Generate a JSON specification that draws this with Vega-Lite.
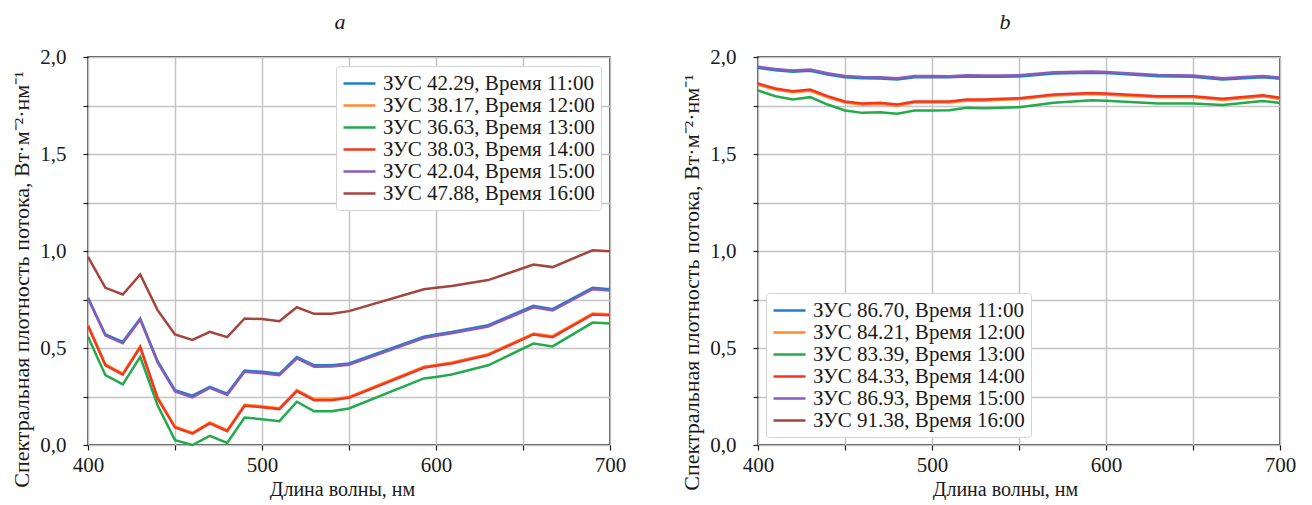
{
  "$schema": "https://vega.github.io/schema/vega-lite/v6.json",
  "padding": {"left": 10, "top": 10, "right": 0, "bottom": 0},
  "background": "white",
  "spacing": 53,
  "config": {
    "font": "Liberation Serif",
    "view": {"stroke": "#1a1a1a", "strokeWidth": 1.5},
    "axis": {
      "domain": false,
      "grid": true,
      "gridColor": "#c4c4c4",
      "gridWidth": 1.5,
      "tickColor": "#1a1a1a",
      "tickSize": 5,
      "tickWidth": 1.2,
      "labelFont": "Liberation Serif",
      "labelFontSize": 21,
      "labelColor": "#1a1a1a",
      "titleFont": "Liberation Serif",
      "titleFontSize": 21,
      "titleFontWeight": "normal",
      "titleColor": "#1a1a1a"
    },
    "axisX": {"labelPadding": 4, "titlePadding": 4, "labelFlush": false, "titleFontSize": 20},
    "axisY": {"labelPadding": 17, "titlePadding": 6, "titleFontSize": 22},
    "legend": {
      "labelFont": "Liberation Serif",
      "labelFontSize": 21,
      "labelColor": "#1a1a1a",
      "labelLimit": 400,
      "labelOffset": 18,
      "symbolType": "M-1,0L2.2,0",
      "symbolSize": 400,
      "symbolStrokeWidth": 2.5,
      "rowPadding": 0,
      "padding": 6,
      "fillColor": "white",
      "strokeColor": "#d4d4d4",
      "cornerRadius": 3
    },
    "title": {"font": "Liberation Serif", "fontSize": 22, "fontStyle": "italic", "fontWeight": "normal", "color": "#1a1a1a", "frame": "group", "offset": 12}
  },
  "datasets": {
    "a": [
      {"s": "ЗУС 42.29, Время 11:00", "x": 400, "y": 0.759}, {"s": "ЗУС 42.29, Время 11:00", "x": 410, "y": 0.570}, {"s": "ЗУС 42.29, Время 11:00", "x": 420, "y": 0.532}, {"s": "ЗУС 42.29, Время 11:00", "x": 430, "y": 0.652}, {"s": "ЗУС 42.29, Время 11:00", "x": 440, "y": 0.432}, {"s": "ЗУС 42.29, Время 11:00", "x": 450, "y": 0.283}, {"s": "ЗУС 42.29, Время 11:00", "x": 460, "y": 0.254}, {"s": "ЗУС 42.29, Время 11:00", "x": 470, "y": 0.300}, {"s": "ЗУС 42.29, Время 11:00", "x": 480, "y": 0.265}, {"s": "ЗУС 42.29, Время 11:00", "x": 490, "y": 0.384}, {"s": "ЗУС 42.29, Время 11:00", "x": 500, "y": 0.377}, {"s": "ЗУС 42.29, Время 11:00", "x": 510, "y": 0.367}, {"s": "ЗУС 42.29, Время 11:00", "x": 520, "y": 0.453}, {"s": "ЗУС 42.29, Время 11:00", "x": 530, "y": 0.411}, {"s": "ЗУС 42.29, Время 11:00", "x": 540, "y": 0.411}, {"s": "ЗУС 42.29, Время 11:00", "x": 550, "y": 0.420}, {"s": "ЗУС 42.29, Время 11:00", "x": 593, "y": 0.558}, {"s": "ЗУС 42.29, Время 11:00", "x": 600, "y": 0.570}, {"s": "ЗУС 42.29, Время 11:00", "x": 609, "y": 0.583}, {"s": "ЗУС 42.29, Время 11:00", "x": 630, "y": 0.618}, {"s": "ЗУС 42.29, Время 11:00", "x": 656, "y": 0.717}, {"s": "ЗУС 42.29, Время 11:00", "x": 667, "y": 0.700}, {"s": "ЗУС 42.29, Время 11:00", "x": 690, "y": 0.810}, {"s": "ЗУС 42.29, Время 11:00", "x": 700, "y": 0.803},
      {"s": "ЗУС 38.17, Время 12:00", "x": 400, "y": 0.620}, {"s": "ЗУС 38.17, Время 12:00", "x": 410, "y": 0.416}, {"s": "ЗУС 38.17, Время 12:00", "x": 420, "y": 0.368}, {"s": "ЗУС 38.17, Время 12:00", "x": 430, "y": 0.509}, {"s": "ЗУС 38.17, Время 12:00", "x": 440, "y": 0.245}, {"s": "ЗУС 38.17, Время 12:00", "x": 450, "y": 0.095}, {"s": "ЗУС 38.17, Время 12:00", "x": 460, "y": 0.063}, {"s": "ЗУС 38.17, Время 12:00", "x": 470, "y": 0.116}, {"s": "ЗУС 38.17, Время 12:00", "x": 480, "y": 0.076}, {"s": "ЗУС 38.17, Время 12:00", "x": 490, "y": 0.207}, {"s": "ЗУС 38.17, Время 12:00", "x": 500, "y": 0.200}, {"s": "ЗУС 38.17, Время 12:00", "x": 510, "y": 0.190}, {"s": "ЗУС 38.17, Время 12:00", "x": 520, "y": 0.283}, {"s": "ЗУС 38.17, Время 12:00", "x": 530, "y": 0.236}, {"s": "ЗУС 38.17, Время 12:00", "x": 540, "y": 0.236}, {"s": "ЗУС 38.17, Время 12:00", "x": 550, "y": 0.248}, {"s": "ЗУС 38.17, Время 12:00", "x": 593, "y": 0.403}, {"s": "ЗУС 38.17, Время 12:00", "x": 600, "y": 0.413}, {"s": "ЗУС 38.17, Время 12:00", "x": 609, "y": 0.425}, {"s": "ЗУС 38.17, Время 12:00", "x": 630, "y": 0.468}, {"s": "ЗУС 38.17, Время 12:00", "x": 656, "y": 0.575}, {"s": "ЗУС 38.17, Время 12:00", "x": 667, "y": 0.561}, {"s": "ЗУС 38.17, Время 12:00", "x": 690, "y": 0.678}, {"s": "ЗУС 38.17, Время 12:00", "x": 700, "y": 0.674},
      {"s": "ЗУС 36.63, Время 13:00", "x": 400, "y": 0.558}, {"s": "ЗУС 36.63, Время 13:00", "x": 410, "y": 0.360}, {"s": "ЗУС 36.63, Время 13:00", "x": 420, "y": 0.312}, {"s": "ЗУС 36.63, Время 13:00", "x": 430, "y": 0.455}, {"s": "ЗУС 36.63, Время 13:00", "x": 440, "y": 0.205}, {"s": "ЗУС 36.63, Время 13:00", "x": 450, "y": 0.025}, {"s": "ЗУС 36.63, Время 13:00", "x": 460, "y": 0.000}, {"s": "ЗУС 36.63, Время 13:00", "x": 470, "y": 0.047}, {"s": "ЗУС 36.63, Время 13:00", "x": 480, "y": 0.011}, {"s": "ЗУС 36.63, Время 13:00", "x": 490, "y": 0.142}, {"s": "ЗУС 36.63, Время 13:00", "x": 500, "y": 0.133}, {"s": "ЗУС 36.63, Время 13:00", "x": 510, "y": 0.123}, {"s": "ЗУС 36.63, Время 13:00", "x": 520, "y": 0.223}, {"s": "ЗУС 36.63, Время 13:00", "x": 530, "y": 0.174}, {"s": "ЗУС 36.63, Время 13:00", "x": 540, "y": 0.174}, {"s": "ЗУС 36.63, Время 13:00", "x": 550, "y": 0.188}, {"s": "ЗУС 36.63, Время 13:00", "x": 593, "y": 0.343}, {"s": "ЗУС 36.63, Время 13:00", "x": 600, "y": 0.351}, {"s": "ЗУС 36.63, Время 13:00", "x": 609, "y": 0.363}, {"s": "ЗУС 36.63, Время 13:00", "x": 630, "y": 0.411}, {"s": "ЗУС 36.63, Время 13:00", "x": 656, "y": 0.523}, {"s": "ЗУС 36.63, Время 13:00", "x": 667, "y": 0.508}, {"s": "ЗУС 36.63, Время 13:00", "x": 690, "y": 0.631}, {"s": "ЗУС 36.63, Время 13:00", "x": 700, "y": 0.626},
      {"s": "ЗУС 38.03, Время 14:00", "x": 400, "y": 0.614}, {"s": "ЗУС 38.03, Время 14:00", "x": 410, "y": 0.411}, {"s": "ЗУС 38.03, Время 14:00", "x": 420, "y": 0.363}, {"s": "ЗУС 38.03, Время 14:00", "x": 430, "y": 0.504}, {"s": "ЗУС 38.03, Время 14:00", "x": 440, "y": 0.240}, {"s": "ЗУС 38.03, Время 14:00", "x": 450, "y": 0.090}, {"s": "ЗУС 38.03, Время 14:00", "x": 460, "y": 0.058}, {"s": "ЗУС 38.03, Время 14:00", "x": 470, "y": 0.111}, {"s": "ЗУС 38.03, Время 14:00", "x": 480, "y": 0.071}, {"s": "ЗУС 38.03, Время 14:00", "x": 490, "y": 0.202}, {"s": "ЗУС 38.03, Время 14:00", "x": 500, "y": 0.195}, {"s": "ЗУС 38.03, Время 14:00", "x": 510, "y": 0.185}, {"s": "ЗУС 38.03, Время 14:00", "x": 520, "y": 0.278}, {"s": "ЗУС 38.03, Время 14:00", "x": 530, "y": 0.231}, {"s": "ЗУС 38.03, Время 14:00", "x": 540, "y": 0.231}, {"s": "ЗУС 38.03, Время 14:00", "x": 550, "y": 0.243}, {"s": "ЗУС 38.03, Время 14:00", "x": 593, "y": 0.398}, {"s": "ЗУС 38.03, Время 14:00", "x": 600, "y": 0.408}, {"s": "ЗУС 38.03, Время 14:00", "x": 609, "y": 0.420}, {"s": "ЗУС 38.03, Время 14:00", "x": 630, "y": 0.463}, {"s": "ЗУС 38.03, Время 14:00", "x": 656, "y": 0.570}, {"s": "ЗУС 38.03, Время 14:00", "x": 667, "y": 0.556}, {"s": "ЗУС 38.03, Время 14:00", "x": 690, "y": 0.673}, {"s": "ЗУС 38.03, Время 14:00", "x": 700, "y": 0.669},
      {"s": "ЗУС 42.04, Время 15:00", "x": 400, "y": 0.755}, {"s": "ЗУС 42.04, Время 15:00", "x": 410, "y": 0.564}, {"s": "ЗУС 42.04, Время 15:00", "x": 420, "y": 0.525}, {"s": "ЗУС 42.04, Время 15:00", "x": 430, "y": 0.647}, {"s": "ЗУС 42.04, Время 15:00", "x": 440, "y": 0.425}, {"s": "ЗУС 42.04, Время 15:00", "x": 450, "y": 0.276}, {"s": "ЗУС 42.04, Время 15:00", "x": 460, "y": 0.246}, {"s": "ЗУС 42.04, Время 15:00", "x": 470, "y": 0.294}, {"s": "ЗУС 42.04, Время 15:00", "x": 480, "y": 0.258}, {"s": "ЗУС 42.04, Время 15:00", "x": 490, "y": 0.377}, {"s": "ЗУС 42.04, Время 15:00", "x": 500, "y": 0.370}, {"s": "ЗУС 42.04, Время 15:00", "x": 510, "y": 0.360}, {"s": "ЗУС 42.04, Время 15:00", "x": 520, "y": 0.446}, {"s": "ЗУС 42.04, Время 15:00", "x": 530, "y": 0.404}, {"s": "ЗУС 42.04, Время 15:00", "x": 540, "y": 0.405}, {"s": "ЗУС 42.04, Время 15:00", "x": 550, "y": 0.413}, {"s": "ЗУС 42.04, Время 15:00", "x": 593, "y": 0.551}, {"s": "ЗУС 42.04, Время 15:00", "x": 600, "y": 0.563}, {"s": "ЗУС 42.04, Время 15:00", "x": 609, "y": 0.576}, {"s": "ЗУС 42.04, Время 15:00", "x": 630, "y": 0.611}, {"s": "ЗУС 42.04, Время 15:00", "x": 656, "y": 0.710}, {"s": "ЗУС 42.04, Время 15:00", "x": 667, "y": 0.693}, {"s": "ЗУС 42.04, Время 15:00", "x": 690, "y": 0.803}, {"s": "ЗУС 42.04, Время 15:00", "x": 700, "y": 0.796},
      {"s": "ЗУС 47.88, Время 16:00", "x": 400, "y": 0.970}, {"s": "ЗУС 47.88, Время 16:00", "x": 410, "y": 0.810}, {"s": "ЗУС 47.88, Время 16:00", "x": 420, "y": 0.776}, {"s": "ЗУС 47.88, Время 16:00", "x": 430, "y": 0.879}, {"s": "ЗУС 47.88, Время 16:00", "x": 440, "y": 0.695}, {"s": "ЗУС 47.88, Время 16:00", "x": 450, "y": 0.570}, {"s": "ЗУС 47.88, Время 16:00", "x": 460, "y": 0.542}, {"s": "ЗУС 47.88, Время 16:00", "x": 470, "y": 0.583}, {"s": "ЗУС 47.88, Время 16:00", "x": 480, "y": 0.556}, {"s": "ЗУС 47.88, Время 16:00", "x": 490, "y": 0.652}, {"s": "ЗУС 47.88, Время 16:00", "x": 500, "y": 0.649}, {"s": "ЗУС 47.88, Время 16:00", "x": 510, "y": 0.638}, {"s": "ЗУС 47.88, Время 16:00", "x": 520, "y": 0.710}, {"s": "ЗУС 47.88, Время 16:00", "x": 530, "y": 0.676}, {"s": "ЗУС 47.88, Время 16:00", "x": 540, "y": 0.676}, {"s": "ЗУС 47.88, Время 16:00", "x": 550, "y": 0.690}, {"s": "ЗУС 47.88, Время 16:00", "x": 593, "y": 0.803}, {"s": "ЗУС 47.88, Время 16:00", "x": 600, "y": 0.810}, {"s": "ЗУС 47.88, Время 16:00", "x": 609, "y": 0.820}, {"s": "ЗУС 47.88, Время 16:00", "x": 630, "y": 0.850}, {"s": "ЗУС 47.88, Время 16:00", "x": 656, "y": 0.930}, {"s": "ЗУС 47.88, Время 16:00", "x": 667, "y": 0.917}, {"s": "ЗУС 47.88, Время 16:00", "x": 690, "y": 1.004}, {"s": "ЗУС 47.88, Время 16:00", "x": 700, "y": 0.999}
    ],
    "b": [
      {"s": "ЗУС 86.70, Время 11:00", "x": 400, "y": 1.944}, {"s": "ЗУС 86.70, Время 11:00", "x": 410, "y": 1.932}, {"s": "ЗУС 86.70, Время 11:00", "x": 420, "y": 1.924}, {"s": "ЗУС 86.70, Время 11:00", "x": 430, "y": 1.929}, {"s": "ЗУС 86.70, Время 11:00", "x": 440, "y": 1.910}, {"s": "ЗУС 86.70, Время 11:00", "x": 450, "y": 1.896}, {"s": "ЗУС 86.70, Время 11:00", "x": 460, "y": 1.891}, {"s": "ЗУС 86.70, Время 11:00", "x": 470, "y": 1.889}, {"s": "ЗУС 86.70, Время 11:00", "x": 480, "y": 1.884}, {"s": "ЗУС 86.70, Время 11:00", "x": 490, "y": 1.896}, {"s": "ЗУС 86.70, Время 11:00", "x": 500, "y": 1.896}, {"s": "ЗУС 86.70, Время 11:00", "x": 510, "y": 1.895}, {"s": "ЗУС 86.70, Время 11:00", "x": 520, "y": 1.900}, {"s": "ЗУС 86.70, Время 11:00", "x": 530, "y": 1.898}, {"s": "ЗУС 86.70, Время 11:00", "x": 540, "y": 1.898}, {"s": "ЗУС 86.70, Время 11:00", "x": 550, "y": 1.900}, {"s": "ЗУС 86.70, Время 11:00", "x": 570, "y": 1.915}, {"s": "ЗУС 86.70, Время 11:00", "x": 592, "y": 1.919}, {"s": "ЗУС 86.70, Время 11:00", "x": 600, "y": 1.917}, {"s": "ЗУС 86.70, Время 11:00", "x": 630, "y": 1.901}, {"s": "ЗУС 86.70, Время 11:00", "x": 650, "y": 1.898}, {"s": "ЗУС 86.70, Время 11:00", "x": 667, "y": 1.884}, {"s": "ЗУС 86.70, Время 11:00", "x": 690, "y": 1.896}, {"s": "ЗУС 86.70, Время 11:00", "x": 700, "y": 1.888},
      {"s": "ЗУС 84.21, Время 12:00", "x": 400, "y": 1.857}, {"s": "ЗУС 84.21, Время 12:00", "x": 410, "y": 1.832}, {"s": "ЗУС 84.21, Время 12:00", "x": 420, "y": 1.818}, {"s": "ЗУС 84.21, Время 12:00", "x": 430, "y": 1.826}, {"s": "ЗУС 84.21, Время 12:00", "x": 440, "y": 1.792}, {"s": "ЗУС 84.21, Время 12:00", "x": 450, "y": 1.765}, {"s": "ЗУС 84.21, Время 12:00", "x": 460, "y": 1.754}, {"s": "ЗУС 84.21, Время 12:00", "x": 470, "y": 1.758}, {"s": "ЗУС 84.21, Время 12:00", "x": 480, "y": 1.749}, {"s": "ЗУС 84.21, Время 12:00", "x": 490, "y": 1.765}, {"s": "ЗУС 84.21, Время 12:00", "x": 500, "y": 1.765}, {"s": "ЗУС 84.21, Время 12:00", "x": 510, "y": 1.765}, {"s": "ЗУС 84.21, Время 12:00", "x": 520, "y": 1.775}, {"s": "ЗУС 84.21, Время 12:00", "x": 530, "y": 1.775}, {"s": "ЗУС 84.21, Время 12:00", "x": 540, "y": 1.779}, {"s": "ЗУС 84.21, Время 12:00", "x": 550, "y": 1.782}, {"s": "ЗУС 84.21, Время 12:00", "x": 570, "y": 1.801}, {"s": "ЗУС 84.21, Время 12:00", "x": 592, "y": 1.809}, {"s": "ЗУС 84.21, Время 12:00", "x": 600, "y": 1.806}, {"s": "ЗУС 84.21, Время 12:00", "x": 630, "y": 1.792}, {"s": "ЗУС 84.21, Время 12:00", "x": 650, "y": 1.792}, {"s": "ЗУС 84.21, Время 12:00", "x": 667, "y": 1.779}, {"s": "ЗУС 84.21, Время 12:00", "x": 690, "y": 1.797}, {"s": "ЗУС 84.21, Время 12:00", "x": 700, "y": 1.784},
      {"s": "ЗУС 83.39, Время 13:00", "x": 400, "y": 1.827}, {"s": "ЗУС 83.39, Время 13:00", "x": 410, "y": 1.798}, {"s": "ЗУС 83.39, Время 13:00", "x": 420, "y": 1.781}, {"s": "ЗУС 83.39, Время 13:00", "x": 430, "y": 1.793}, {"s": "ЗУС 83.39, Время 13:00", "x": 440, "y": 1.755}, {"s": "ЗУС 83.39, Время 13:00", "x": 450, "y": 1.724}, {"s": "ЗУС 83.39, Время 13:00", "x": 460, "y": 1.712}, {"s": "ЗУС 83.39, Время 13:00", "x": 470, "y": 1.715}, {"s": "ЗУС 83.39, Время 13:00", "x": 480, "y": 1.707}, {"s": "ЗУС 83.39, Время 13:00", "x": 490, "y": 1.724}, {"s": "ЗУС 83.39, Время 13:00", "x": 500, "y": 1.724}, {"s": "ЗУС 83.39, Время 13:00", "x": 510, "y": 1.726}, {"s": "ЗУС 83.39, Время 13:00", "x": 520, "y": 1.738}, {"s": "ЗУС 83.39, Время 13:00", "x": 530, "y": 1.736}, {"s": "ЗУС 83.39, Время 13:00", "x": 540, "y": 1.738}, {"s": "ЗУС 83.39, Время 13:00", "x": 550, "y": 1.741}, {"s": "ЗУС 83.39, Время 13:00", "x": 570, "y": 1.764}, {"s": "ЗУС 83.39, Время 13:00", "x": 592, "y": 1.777}, {"s": "ЗУС 83.39, Время 13:00", "x": 600, "y": 1.774}, {"s": "ЗУС 83.39, Время 13:00", "x": 630, "y": 1.760}, {"s": "ЗУС 83.39, Время 13:00", "x": 650, "y": 1.760}, {"s": "ЗУС 83.39, Время 13:00", "x": 667, "y": 1.752}, {"s": "ЗУС 83.39, Время 13:00", "x": 690, "y": 1.773}, {"s": "ЗУС 83.39, Время 13:00", "x": 700, "y": 1.763},
      {"s": "ЗУС 84.33, Время 14:00", "x": 400, "y": 1.863}, {"s": "ЗУС 84.33, Время 14:00", "x": 410, "y": 1.838}, {"s": "ЗУС 84.33, Время 14:00", "x": 420, "y": 1.824}, {"s": "ЗУС 84.33, Время 14:00", "x": 430, "y": 1.832}, {"s": "ЗУС 84.33, Время 14:00", "x": 440, "y": 1.798}, {"s": "ЗУС 84.33, Время 14:00", "x": 450, "y": 1.771}, {"s": "ЗУС 84.33, Время 14:00", "x": 460, "y": 1.760}, {"s": "ЗУС 84.33, Время 14:00", "x": 470, "y": 1.764}, {"s": "ЗУС 84.33, Время 14:00", "x": 480, "y": 1.755}, {"s": "ЗУС 84.33, Время 14:00", "x": 490, "y": 1.771}, {"s": "ЗУС 84.33, Время 14:00", "x": 500, "y": 1.771}, {"s": "ЗУС 84.33, Время 14:00", "x": 510, "y": 1.771}, {"s": "ЗУС 84.33, Время 14:00", "x": 520, "y": 1.781}, {"s": "ЗУС 84.33, Время 14:00", "x": 530, "y": 1.781}, {"s": "ЗУС 84.33, Время 14:00", "x": 540, "y": 1.785}, {"s": "ЗУС 84.33, Время 14:00", "x": 550, "y": 1.788}, {"s": "ЗУС 84.33, Время 14:00", "x": 570, "y": 1.807}, {"s": "ЗУС 84.33, Время 14:00", "x": 592, "y": 1.815}, {"s": "ЗУС 84.33, Время 14:00", "x": 600, "y": 1.812}, {"s": "ЗУС 84.33, Время 14:00", "x": 630, "y": 1.798}, {"s": "ЗУС 84.33, Время 14:00", "x": 650, "y": 1.798}, {"s": "ЗУС 84.33, Время 14:00", "x": 667, "y": 1.785}, {"s": "ЗУС 84.33, Время 14:00", "x": 690, "y": 1.803}, {"s": "ЗУС 84.33, Время 14:00", "x": 700, "y": 1.790},
      {"s": "ЗУС 86.93, Время 15:00", "x": 400, "y": 1.950}, {"s": "ЗУС 86.93, Время 15:00", "x": 410, "y": 1.938}, {"s": "ЗУС 86.93, Время 15:00", "x": 420, "y": 1.930}, {"s": "ЗУС 86.93, Время 15:00", "x": 430, "y": 1.935}, {"s": "ЗУС 86.93, Время 15:00", "x": 440, "y": 1.916}, {"s": "ЗУС 86.93, Время 15:00", "x": 450, "y": 1.902}, {"s": "ЗУС 86.93, Время 15:00", "x": 460, "y": 1.897}, {"s": "ЗУС 86.93, Время 15:00", "x": 470, "y": 1.895}, {"s": "ЗУС 86.93, Время 15:00", "x": 480, "y": 1.890}, {"s": "ЗУС 86.93, Время 15:00", "x": 490, "y": 1.902}, {"s": "ЗУС 86.93, Время 15:00", "x": 500, "y": 1.902}, {"s": "ЗУС 86.93, Время 15:00", "x": 510, "y": 1.901}, {"s": "ЗУС 86.93, Время 15:00", "x": 520, "y": 1.906}, {"s": "ЗУС 86.93, Время 15:00", "x": 530, "y": 1.904}, {"s": "ЗУС 86.93, Время 15:00", "x": 540, "y": 1.904}, {"s": "ЗУС 86.93, Время 15:00", "x": 550, "y": 1.906}, {"s": "ЗУС 86.93, Время 15:00", "x": 570, "y": 1.921}, {"s": "ЗУС 86.93, Время 15:00", "x": 592, "y": 1.925}, {"s": "ЗУС 86.93, Время 15:00", "x": 600, "y": 1.923}, {"s": "ЗУС 86.93, Время 15:00", "x": 630, "y": 1.907}, {"s": "ЗУС 86.93, Время 15:00", "x": 650, "y": 1.904}, {"s": "ЗУС 86.93, Время 15:00", "x": 667, "y": 1.890}, {"s": "ЗУС 86.93, Время 15:00", "x": 690, "y": 1.902}, {"s": "ЗУС 86.93, Время 15:00", "x": 700, "y": 1.894}
    ]
  },
  "hconcat": [
    {
      "title": {"text": "a", "dx": -9},
      "width": 522,
      "height": 388,
      "data": {"name": "a"},
      "mark": {"type": "line", "strokeWidth": 2.5},
      "encoding": {
        "x": {"field": "x", "type": "quantitative", "scale": {"domain": [400, 700], "nice": false},
          "axis": {"title": "Длина волны, нм", "titleX": 254, "values": [400, 450, 500, 550, 600, 650, 700], "labelExpr": "datum.value % 100 == 0 ? datum.label : ''"}},
        "y": {"field": "y", "type": "quantitative", "scale": {"domain": [0, 2], "nice": false},
          "axis": {"title": "Спектральная плотность потока, Вт·м⁻²·нм⁻¹", "titleY": 222, "values": [0, 0.25, 0.5, 0.75, 1, 1.25, 1.5, 1.75, 2], "labelExpr": "(datum.value * 2) % 1 == 0 ? replace(format(datum.value, '.1f'), '.', ',') : ''"}},
        "color": {"field": "s", "type": "nominal",
          "scale": {"domain": ["ЗУС 42.29, Время 11:00", "ЗУС 38.17, Время 12:00", "ЗУС 36.63, Время 13:00", "ЗУС 38.03, Время 14:00", "ЗУС 42.04, Время 15:00", "ЗУС 47.88, Время 16:00"],
            "range": ["#1f7fc4", "#ff8a2e", "#22aa4c", "#f2361f", "#8a5bb8", "#a3453c"]},
          "legend": {"title": null, "orient": "top-right", "offset": 9}}
      }
    },
    {
      "title": {"text": "b", "dx": -14},
      "width": 522,
      "height": 388,
      "data": {"name": "b"},
      "mark": {"type": "line", "strokeWidth": 2.5},
      "encoding": {
        "x": {"field": "x", "type": "quantitative", "scale": {"domain": [400, 700], "nice": false},
          "axis": {"title": "Длина волны, нм", "titleX": 247, "values": [400, 450, 500, 550, 600, 650, 700], "labelExpr": "datum.value % 100 == 0 ? datum.label : ''"}},
        "y": {"field": "y", "type": "quantitative", "scale": {"domain": [0, 2], "nice": false},
          "axis": {"title": "Спектральная плотность потока, Вт·м⁻²·нм⁻¹", "titleY": 225, "values": [0, 0.25, 0.5, 0.75, 1, 1.25, 1.5, 1.75, 2], "labelExpr": "(datum.value * 2) % 1 == 0 ? replace(format(datum.value, '.1f'), '.', ',') : ''"}},
        "color": {"field": "s", "type": "nominal",
          "scale": {"domain": ["ЗУС 86.70, Время 11:00", "ЗУС 84.21, Время 12:00", "ЗУС 83.39, Время 13:00", "ЗУС 84.33, Время 14:00", "ЗУС 86.93, Время 15:00", "ЗУС 91.38, Время 16:00"],
            "range": ["#1f7fc4", "#ff8a2e", "#22aa4c", "#f2361f", "#8a5bb8", "#a3453c"]},
          "legend": {"title": null, "orient": "bottom-left", "offset": 8}}
      }
    }
  ],
  "resolve": {"scale": {"color": "independent"}, "legend": {"color": "independent"}}
}
